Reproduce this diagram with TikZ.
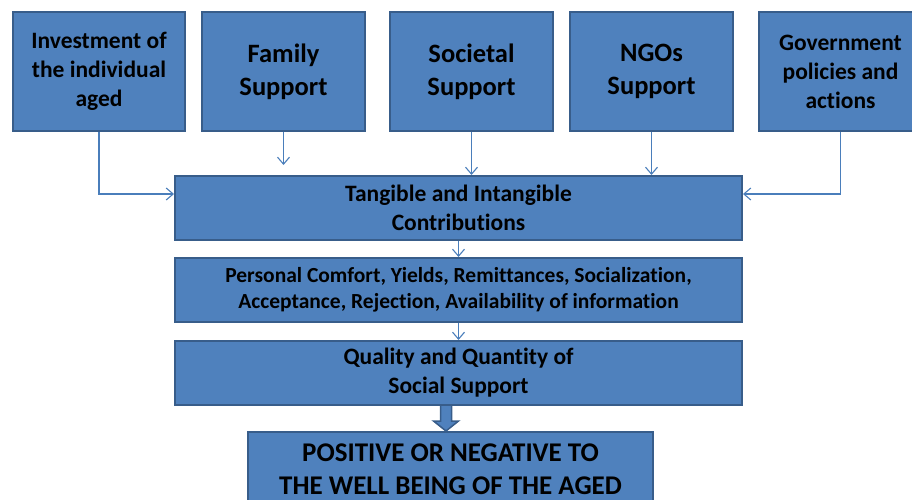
\documentclass[tikz,border=0pt]{standalone}
\usepackage{fontspec}
\setmainfont{Carlito}[Ligatures=NoCommon]
\usetikzlibrary{arrows.meta,calc}
\definecolor{boxfill}{HTML}{4F81BD}
\definecolor{boxline}{HTML}{385D8A}
\definecolor{linkcol}{HTML}{4A7EBB}

\begin{document}
\begin{tikzpicture}[x=1pt,y=-1pt,
  blk/.style={draw=boxline,fill=boxfill,line width=2pt,inner sep=0pt,align=center},
  link/.style={draw=linkcol,line width=1.1pt,-{Straight Barb[length=7pt,width=12pt]}},
  bigarrow/.style={draw=boxline,fill=boxfill,line width=1.5pt,line join=miter}]
  \useasboundingbox (0,0) rectangle (912,500);
  \clip (0,0) rectangle (912,500);
  % Top row: sources of support
  \node[blk,minimum width=172pt,minimum height=119pt,font=\bfseries\fontsize{23.5}{29}\selectfont] (inv) at (99,71.5) {Investment of\\the individual\\aged};
  \node[blk,minimum width=163pt,minimum height=119pt,font=\bfseries\fontsize{26.5}{33}\selectfont] (fam) at (283.5,71.5) {Family\\Support};
  \node[blk,minimum width=163pt,minimum height=119pt,font=\bfseries\fontsize{26.5}{33}\selectfont] (soc) at (471.5,71.5) {Societal\\Support};
  \node[blk,minimum width=163pt,minimum height=119pt,font=\bfseries\fontsize{26.5}{33}\selectfont] (ngo) at (651.5,71.5) {NGOs\\Support};
  \node[blk,minimum width=163pt,minimum height=119pt,font=\bfseries\fontsize{23.5}{29}\selectfont] (gov) at (840.5,71.5) {Government\\policies and\\actions};
  % Middle chain
  \node[blk,minimum width=567pt,minimum height=64pt,font=\bfseries\fontsize{23.5}{29}\selectfont] (tang) at (458.5,208) {Tangible and Intangible\\Contributions};
  \node[blk,minimum width=567pt,minimum height=64pt,font=\bfseries\fontsize{21.5}{26}\selectfont] (pers) at (458.5,290) {Personal Comfort, Yields, Remittances, Socialization,\\Acceptance, Rejection, Availability of information};
  \node[blk,minimum width=567pt,minimum height=64pt,font=\bfseries\fontsize{23.5}{29}\selectfont] (qual) at (458.5,373) {Quality and Quantity of\\Social Support};
  % Outcome
  \node[blk,minimum width=405pt,minimum height=74pt,font=\bfseries\fontsize{27}{33}\selectfont] (fin) at (450.5,469) {POSITIVE OR NEGATIVE TO\\THE WELL BEING OF THE AGED};
  % Connectors
  \draw[link] (inv.south) |- ([yshift=14pt]tang.west);
  \draw[link] (gov.south) |- ([yshift=14pt]tang.east);
  \draw[link] (fam.south) -- ([yshift=10pt]fam.south |- tang.north);
  \draw[link] (soc.south) -- (soc.south |- tang.north);
  \draw[link] (ngo.south) -- (ngo.south |- tang.north);
  \draw[link] (tang.south) -- (pers.north);
  \draw[link] (pers.south) -- (qual.north);
  % Block arrow to outcome
  \coordinate (bigtop) at ($(qual.south)+(-12.5,0)$);
  \coordinate (bigtip) at (bigtop |- fin.north);
  \filldraw[bigarrow] ($(bigtop)+(-5.5,0)$) -- ($(bigtop)+(-5.5,15)$) -- ($(bigtop)+(-12.5,15)$)
    -- (bigtip) -- ($(bigtop)+(12.5,15)$) -- ($(bigtop)+(5.5,15)$) -- ($(bigtop)+(5.5,0)$);
\end{tikzpicture}
\end{document}
